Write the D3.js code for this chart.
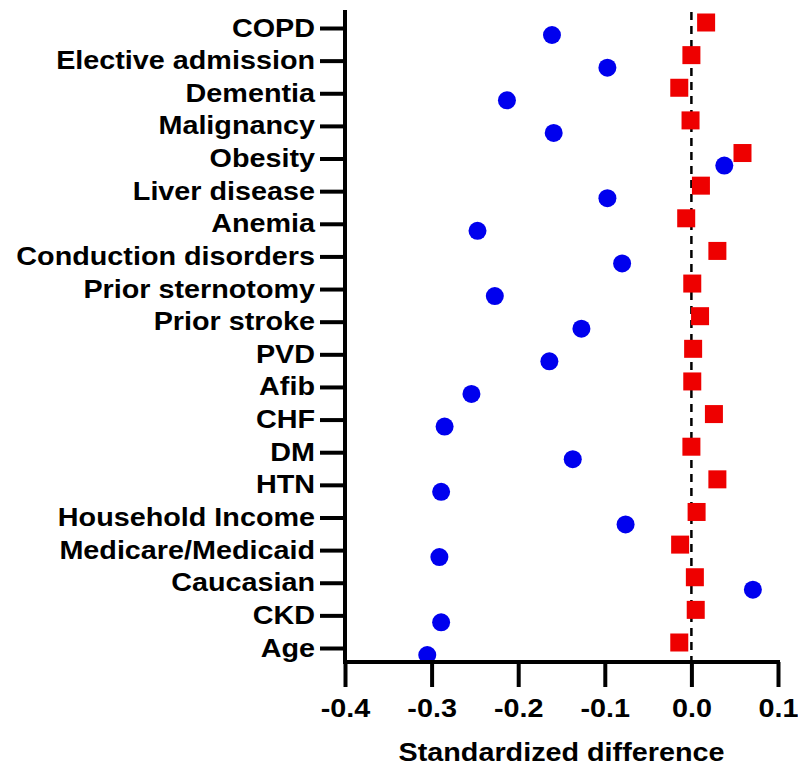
<!DOCTYPE html>
<html>
<head>
<meta charset="utf-8">
<script src="https://cdn.jsdelivr.net/npm/d3@7.9.0/dist/d3.min.js"></script>
<style>
  body { margin: 0; background: #fff; }
  svg { display: block; font-family: "Liberation Sans", Arial, sans-serif; font-weight: bold; }
</style>
</head>
<body>
<svg id="chart" width="798" height="767"></svg>
<script>
const categories = [
  'COPD', 'Elective admission', 'Dementia', 'Malignancy', 'Obesity',
  'Liver disease', 'Anemia', 'Conduction disorders', 'Prior sternotomy',
  'Prior stroke', 'PVD', 'Afib', 'CHF', 'DM', 'HTN', 'Household Income',
  'Medicare/Medicaid', 'Caucasian', 'CKD', 'Age'
];
// blue circles
const before = [
  -0.161, -0.097, -0.213, -0.159, 0.038, -0.097, -0.247, -0.080, -0.227,
  -0.127, -0.164, -0.254, -0.285, -0.137, -0.289, -0.076, -0.291, 0.071,
  -0.289, -0.305
];
// red squares
const after = [
  0.017, 0.000, -0.014, -0.001, 0.059, 0.011, -0.006, 0.030, 0.001,
  0.010, 0.002, 0.001, 0.026, 0.000, 0.030, 0.006, -0.013, 0.004,
  0.005, -0.014
];
const xTicks = [-0.4, -0.3, -0.2, -0.1, 0.0, 0.1];

const fontSize = 25;
const stretch = 1.15; // the lettering in the picture is a bit wide

const svg = d3.select('#chart');
const x = d3.scaleLinear().domain([-0.4, 0.1]).range([345, 778]);
const y = d3.scalePoint().domain(categories).range([28, 648]);
const axisTop = 10, axisBottom = 662;

// zero reference line
svg.append('line')
  .attr('x1', x(0)).attr('x2', x(0))
  .attr('y1', 12).attr('y2', axisBottom)
  .attr('stroke', '#000').attr('stroke-width', 2.5)
  .attr('stroke-dasharray', '8,6');

// points
svg.append('g').selectAll('circle')
  .data(categories)
  .join('circle')
  .attr('cx', (d, i) => x(before[i]))
  .attr('cy', d => y(d) + 7)
  .attr('r', 9)
  .attr('fill', '#0000ee');

const sq = 18;
svg.append('g').selectAll('rect')
  .data(categories)
  .join('rect')
  .attr('x', (d, i) => x(after[i]) - sq / 2)
  .attr('y', d => y(d) - 5.5 - sq / 2)
  .attr('width', sq).attr('height', sq)
  .attr('fill', '#ee0000');

// y axis
const yAxis = svg.append('g')
  .attr('transform', `translate(${x(-0.4)},0)`)
  .call(d3.axisLeft(y).tickSize(25).tickPadding(5));
yAxis.select('.domain').remove();
yAxis.selectAll('.tick line').attr('stroke-width', 4);
yAxis.selectAll('.tick text')
  .attr('font-size', fontSize).attr('font-family', null).attr('fill', '#000')
  .attr('x', -30 / stretch)
  .attr('transform', `scale(${stretch},1)`);
yAxis.append('line')
  .attr('x1', 0).attr('x2', 0).attr('y1', axisTop).attr('y2', axisBottom + 2)
  .attr('stroke', '#000').attr('stroke-width', 4);

// x axis
const xAxis = svg.append('g')
  .attr('transform', `translate(0,${axisBottom})`)
  .call(d3.axisBottom(x).tickValues(xTicks).tickFormat(d => d.toFixed(1))
    .tickSize(25).tickPadding(12));
xAxis.select('.domain').remove();
xAxis.selectAll('.tick line').attr('stroke-width', 4);
xAxis.selectAll('.tick text')
  .attr('font-size', fontSize).attr('font-family', null).attr('fill', '#000')
  .attr('transform', `scale(${stretch},1)`);
xAxis.append('line')
  .attr('x1', x(-0.4) - 2).attr('x2', x(0.1) + 2).attr('y1', 0).attr('y2', 0)
  .attr('stroke', '#000').attr('stroke-width', 4);

svg.append('text')
  .attr('transform', `translate(${(x(-0.4) + x(0.1)) / 2},761) scale(${stretch},1)`)
  .attr('text-anchor', 'middle')
  .attr('font-size', fontSize)
  .text('Standardized difference');
</script>
</body>
</html>
